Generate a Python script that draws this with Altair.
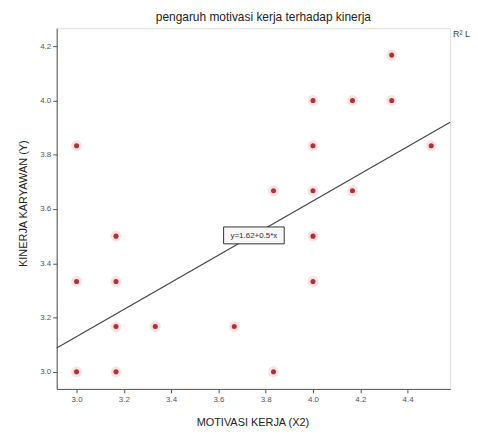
import altair as alt
import pandas as pd

# Data
motivasi = [3.0, 3.0, 3.0, 3.167, 3.167, 3.167, 3.167, 3.333, 3.667, 3.833, 3.833,
            4.0, 4.0, 4.0, 4.0, 4.0, 4.167, 4.167, 4.333, 4.333, 4.5]
kinerja = [3.833, 3.333, 3.0, 3.5, 3.333, 3.167, 3.0, 3.167, 3.167, 3.667, 3.0,
           4.0, 3.833, 3.667, 3.5, 3.333, 4.0, 3.667, 4.167, 4.0, 3.833]

# Fit line (as labelled in the chart)
intercept = [1.63]
slope = [0.5]
eq_label = ["y=1.62+0.5*x"]

x_ticks = [3.0, 3.2, 3.4, 3.6, 3.8, 4.0, 4.2, 4.4]
y_ticks = [3.0, 3.2, 3.4, 3.6, 3.8, 4.0, 4.2]

x_domain = [2.916, 4.58]
y_domain = [2.937, 4.266]

pts = pd.DataFrame({"x": motivasi, "y": kinerja})
line_df = pd.DataFrame({"x": x_domain,
                        "y": [intercept[0] + slope[0] * v for v in x_domain]})

W, H = 396, 363

xs = alt.Scale(domain=x_domain, nice=False, zero=False)
ys = alt.Scale(domain=y_domain, nice=False, zero=False)

x_axis = alt.Axis(values=x_ticks, format=".1f", title="MOTIVASI KERJA (X2)",
                  grid=False, tickSize=4, labelFontSize=8, labelColor="#555",
                  labelPadding=3, domainColor="#555", tickColor="#555",
                  titleFontSize=11, titleFontWeight="normal", titleColor="#222",
                  titleX=197, titleY=34, titleBaseline="middle", titleAlign="center")
y_axis = alt.Axis(values=y_ticks, format=".1f", title="KINERJA KARYAWAN (Y)",
                  grid=False, tickSize=4, labelFontSize=8, labelColor="#555",
                  labelPadding=2, domainColor="#555", tickColor="#555",
                  titleFontSize=11, titleFontWeight="normal", titleColor="#222",
                  titleX=-33, titleY=176, titleAngle=-90, titleBaseline="middle",
                  titleAlign="center")

halo = alt.Chart(pts).mark_circle(size=120, color="#f6caca", opacity=0.55).encode(
    x=alt.X("x:Q", scale=xs, axis=x_axis),
    y=alt.Y("y:Q", scale=ys, axis=y_axis),
)
core = alt.Chart(pts).mark_circle(size=26, color="#a8343e", opacity=1).encode(
    x=alt.X("x:Q", scale=xs), y=alt.Y("y:Q", scale=ys))

fit = alt.Chart(line_df).mark_line(color="#444", strokeWidth=1.2).encode(
    x=alt.X("x:Q", scale=xs), y=alt.Y("y:Q", scale=ys))

box = alt.Chart(pd.DataFrame({"t": eq_label})).mark_rect(
    fill="#f7f7f7", stroke="#333", strokeWidth=1).encode(
    x=alt.value(168), x2=alt.value(229), y=alt.value(200), y2=alt.value(217))
box_text = alt.Chart(pd.DataFrame({"t": eq_label})).mark_text(
    fontSize=8, color="#333", align="center", baseline="middle").encode(
    x=alt.value(198.5), y=alt.value(209), text="t:N")

r2 = alt.Chart(pd.DataFrame({"t": ["R\u00b2 L"]})).mark_text(
    fontSize=9, color="#444", align="left", baseline="middle").encode(
    x=alt.value(399), y=alt.value(6), text="t:N")

chart = alt.layer(halo, core, fit, box, box_text, r2).properties(
    width=W, height=H,
    title=alt.TitleParams("pengaruh motivasi  kerja terhadap kinerja",
                          fontSize=12, fontWeight="normal", color="#222",
                          anchor="middle", offset=4, dx=10),
    autosize=alt.AutoSizeParams(type="none"),
    padding={"left": 49, "top": 19, "right": 20, "bottom": 45},
    background="white",
).configure_view(fill="#efefef", stroke="#777", strokeWidth=1.2).configure(
    font="Liberation Sans")

chart.save("out.html", embed_options={"renderer": "svg", "actions": False})
